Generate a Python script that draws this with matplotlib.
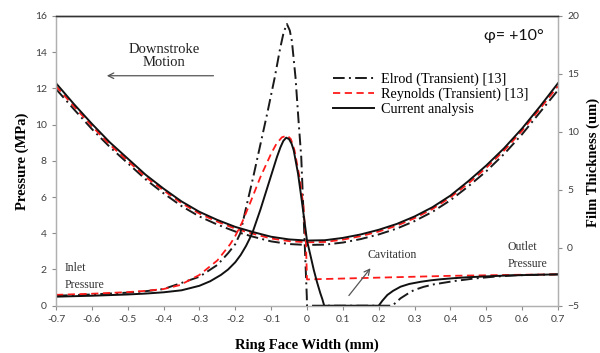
import matplotlib
matplotlib.use('Agg')
import matplotlib.pyplot as plt
from matplotlib.lines import Line2D

# Толщина плёнки (um), правая ось
x_film = [-0.7, -0.65, -0.6, -0.55, -0.5, -0.45, -0.4, -0.35, -0.3, -0.25, -0.2, -0.15, -0.1, -0.05,
          0.0, 0.05, 0.1, 0.15, 0.2, 0.25, 0.3, 0.35, 0.4, 0.45, 0.5, 0.55, 0.6, 0.65, 0.7]
h_current = [14.2, 12.4, 10.7, 9.1, 7.7, 6.3, 5.1, 4.0, 3.1, 2.4, 1.8, 1.35, 0.95, 0.72,
             0.62, 0.65, 0.85, 1.15, 1.55, 2.05, 2.7, 3.5, 4.5, 5.75, 7.1, 8.6, 10.3, 12.2, 14.2]
h_reynolds = [13.95, 12.2, 10.5, 8.9, 7.5, 6.1, 4.95, 3.85, 2.95, 2.25, 1.65, 1.2, 0.8, 0.57,
              0.47, 0.5, 0.7, 1.0, 1.4, 1.9, 2.55, 3.35, 4.35, 5.55, 6.9, 8.4, 10.1, 12.0, 13.95]
h_elrod = [13.7, 11.95, 10.25, 8.7, 7.3, 5.9, 4.7, 3.6, 2.7, 2.0, 1.4, 0.95, 0.55, 0.32,
           0.24, 0.27, 0.45, 0.75, 1.15, 1.65, 2.3, 3.1, 4.1, 5.3, 6.6, 8.1, 9.8, 11.7, 13.6]

# Давление (MPa), левая ось
x_p_current = [-0.7, -0.6, -0.5, -0.45, -0.4, -0.35, -0.3, -0.27, -0.24, -0.22, -0.2, -0.185, -0.17,
               -0.16, -0.15, -0.13, -0.107, -0.084, -0.074, -0.066, -0.058, -0.05, -0.043, -0.037,
               -0.025, -0.0145, 0.0, 0.01, 0.019, 0.028, 0.037, 0.043, 0.048,
               0.2, 0.21, 0.224, 0.24, 0.261, 0.285, 0.317, 0.345, 0.373, 0.41, 0.447, 0.5, 0.55, 0.62, 0.7]
p_current = [0.5, 0.55, 0.62, 0.67, 0.74, 0.85, 1.1, 1.35, 1.7, 2.0, 2.4, 2.8, 3.3,
             3.7, 4.15, 5.3, 6.75, 8.2, 8.75, 9.1, 9.28, 9.2, 8.95, 8.58,
             7.3, 5.8, 3.6, 2.75, 1.97, 1.3, 0.7, 0.35, 0.0,
             0.0, 0.27, 0.59, 0.82, 1.05, 1.2, 1.32, 1.4, 1.46, 1.52, 1.57, 1.62, 1.66, 1.7, 1.73]

x_p_reynolds = [-0.7, -0.6, -0.5, -0.45, -0.4, -0.354, -0.3, -0.25, -0.214, -0.2, -0.181, -0.158, -0.13,
                -0.1, -0.085, -0.07, -0.055, -0.045, -0.035, -0.02, -0.01, -0.003, 0.0,
                0.1, 0.2, 0.3, 0.4, 0.5, 0.6, 0.7]
p_reynolds = [0.6, 0.66, 0.75, 0.82, 0.92, 1.14, 1.7, 2.5, 3.4, 3.85, 4.6, 5.7, 7.1,
              8.4, 8.95, 9.3, 9.4, 9.2, 8.6, 7.0, 5.5, 3.5, 1.45,
              1.5, 1.55, 1.6, 1.65, 1.68, 1.71, 1.73]

x_p_elrod = [-0.7, -0.6, -0.5, -0.45, -0.4, -0.354, -0.3, -0.25, -0.22, -0.2, -0.186, -0.17, -0.15,
             -0.13, -0.11, -0.09, -0.075, -0.065, -0.056, -0.048, -0.042, -0.032, -0.023, -0.016,
             -0.0075, -0.0005, 0.0,
             0.238, 0.261, 0.28, 0.298, 0.325, 0.354, 0.41, 0.466, 0.52, 0.58, 0.7]
p_elrod = [0.55, 0.62, 0.72, 0.8, 0.92, 1.23, 1.6, 2.25, 2.9, 3.4, 4.0, 5.4, 7.1,
           8.9, 10.7, 12.6, 14.2, 15.1, 15.56, 15.2, 14.6, 12.6, 10.05, 8.2,
           4.0, 0.5, 0.0,
           0.0, 0.41, 0.65, 0.86, 1.04, 1.18, 1.36, 1.5, 1.6, 1.68, 1.73]

x_ticks = [-0.7, -0.6, -0.5, -0.4, -0.3, -0.2, -0.1, 0.0, 0.1, 0.2, 0.3, 0.4, 0.5, 0.6, 0.7]
x_tick_labels = ['-0.7', '-0.6', '-0.5', '-0.4', '-0.3', '-0.2', '-0.1', '0',
                 '0.1', '0.2', '0.3', '0.4', '0.5', '0.6', '0.7']
p_ticks = [0, 2, 4, 6, 8, 10, 12, 14, 16]
h_ticks = [-5, 0, 5, 10, 15, 20]

serif = 'Liberation Serif'
tick_font = ['Lato', 'DejaVu Sans']
grey = '#8c8c8c'
dashdot = (0, (6, 2.2, 1, 2.2))
dashed = (0, (4, 2.5))

fig = plt.figure(figsize=(6.0, 3.53), dpi=100)
ax = fig.add_axes([0.0933, 0.134, 0.8367, 0.8207])
ax2 = ax.twinx()

# толщина плёнки
ax2.plot(x_film, h_elrod, color='#1a1a1a', lw=1.4, ls=dashdot)
ax2.plot(x_film, h_reynolds, color='#ff1a1a', lw=1.3, ls=dashed)
ax2.plot(x_film, h_current, color='#111111', lw=1.4)

# давление
ax.plot(x_p_elrod, p_elrod, color='#1a1a1a', lw=1.4, ls=dashdot)
ax.plot(x_p_reynolds, p_reynolds, color='#ff1a1a', lw=1.3, ls=dashed)
ax.plot(x_p_current, p_current, color='#111111', lw=1.4)
ax.set_zorder(ax2.get_zorder() + 1)
ax.patch.set_visible(False)

ax.set_xlim(-0.7, 0.7)
ax.set_ylim(0, 16)
ax2.set_ylim(-5, 20)
ax.set_xticks(x_ticks)
ax.set_xticklabels(x_tick_labels)
ax.set_yticks(p_ticks)
ax2.set_yticks(h_ticks)

for a in (ax, ax2):
    a.tick_params(direction='out', length=3, width=0.8, color=grey, labelcolor='#404040', labelsize=7.5)
    for lab in a.get_xticklabels() + a.get_yticklabels():
        lab.set_family(tick_font)
    for side in ('left', 'right', 'bottom'):
        a.spines[side].set_color('#b0b0b0')
        a.spines[side].set_linewidth(0.9)
    a.spines['top'].set_color('#333333')
    a.spines['top'].set_linewidth(1.0)
ax.tick_params(axis='x', pad=4)

ax.set_xlabel('Ring Face Width (mm)', family=serif, fontweight='bold', fontsize=10.5, labelpad=10)
ax.set_ylabel('Pressure (MPa)', family=serif, fontweight='bold', fontsize=10.5, labelpad=4)
fig.text(0.988, 0.54, 'Film Thickness (um)', family=serif, fontweight='bold', fontsize=10.5,
         rotation=90, ha='center', va='center')

# подписи
ax.text(-0.398, 13.8, 'Downstroke\nMotion', family=serif, fontsize=10.5, ha='center', va='center',
        linespacing=1.05, color='#222222')
ax.annotate('', xy=(-0.566, 12.7), xytext=(-0.253, 12.7),
            arrowprops=dict(arrowstyle='->', color='#555555', lw=0.9))
ax.text(0.577, 14.9, 'φ= +10°', family=tick_font, fontsize=11.5, ha='center', va='center', color='#111111')
ax.text(-0.675, 1.63, 'Inlet\nPressure', family=serif, fontsize=8.5, ha='left', va='center',
        linespacing=1.55, color='#333333')
ax.text(0.56, 2.77, 'Outlet\nPressure', family=serif, fontsize=8.5, ha='left', va='center',
        linespacing=1.55, color='#333333')
ax.text(0.169, 2.79, 'Cavitation', family=serif, fontsize=8.5, ha='left', va='center', color='#333333')
ax.annotate('', xy=(0.182, 2.19), xytext=(0.112, 0.44),
            arrowprops=dict(arrowstyle='->', color='#555555', lw=0.9))

handles = [Line2D([], [], color='#1a1a1a', lw=1.4, ls=dashdot),
           Line2D([], [], color='#ff1a1a', lw=1.3, ls=dashed),
           Line2D([], [], color='#111111', lw=1.4)]
labels = ['Elrod (Transient) [13]', 'Reynolds (Transient) [13]', 'Current analysis']
fig.legend(handles, labels, loc='upper left', bbox_to_anchor=(0.545, 0.81), frameon=False,
           prop={'family': serif, 'size': 10.3}, handlelength=2.9, handletextpad=0.5,
           labelspacing=0.12, borderaxespad=0)

fig.savefig('out.png', dpi=100)
